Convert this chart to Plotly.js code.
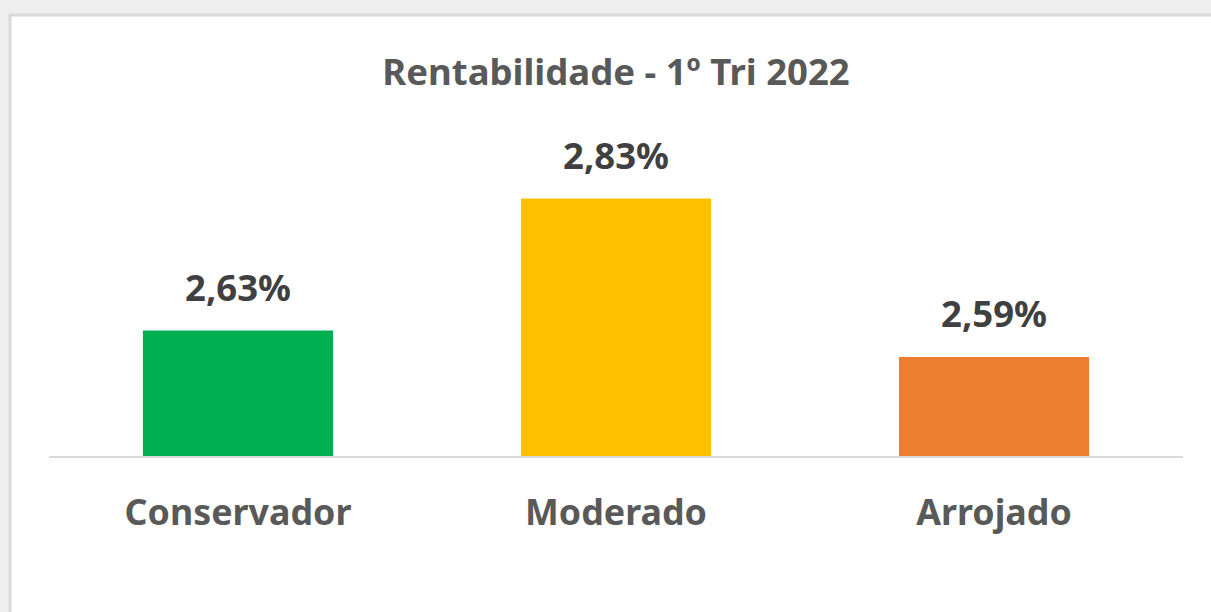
<!DOCTYPE html>
<html>
<head>
<meta charset="utf-8">
<script src="https://cdn.plot.ly/plotly-3.0.1.min.js"></script>
<style>
html,body{margin:0;padding:0;background:#efefef;}
#chart{width:1211px;height:612px;}
</style>
</head>
<body>
<div id="chart"></div>
<script>
const categories = ["Conservador", "Moderado", "Arrojado"];
const values = [2.63, 2.83, 2.59];
const labels = ["2,63%", "2,83%", "2,59%"];
const colors = ["#00B050", "#FFC000", "#ED7D31"];
const titleText = "Rentabilidade - 1º Tri 2022";

const FONT = "Noto Sans, Open Sans, sans-serif";

const trace = {
  type: "bar",
  x: categories,
  y: values,
  width: 0.503,
  marker: {color: colors, line: {width: 0}},
  hoverinfo: "skip"
};

const annotations = categories.map((c, i) => ({
  x: c, y: values[i], xref: "x", yref: "y",
  text: "<b>" + labels[i] + "</b>",
  showarrow: false, yanchor: "bottom", yshift: 17,
  font: {family: FONT, size: 36.5, color: "#404040"}
}));

const pl = 49, pw = 1134, pt = 100, ph = 356;
const shapes = [{
  type: "rect", xref: "paper", yref: "paper", layer: "below",
  x0: (10 - pl) / pw, x1: (1230 - pl) / pw,
  y0: 1 - (640 - pt) / ph, y1: 1 - (15 - pt) / ph,
  fillcolor: "#ffffff", line: {color: "#d9d9d9", width: 3}
}];

const layout = {
  width: 1211, height: 612,
  margin: {l: pl, r: 1211 - pl - pw, t: pt, b: 612 - pt - ph},
  paper_bgcolor: "#efefef",
  plot_bgcolor: "rgba(0,0,0,0)",
  title: {
    text: "<b>" + titleText + "</b>",
    x: 0.5, xref: "paper", y: 1 - 72 / 612, yanchor: "middle",
    font: {family: FONT, size: 36.5, color: "#595959"}
  },
  xaxis: {
    type: "category", range: [-0.5, 2.5], fixedrange: true,
    showline: true, linecolor: "#d9d9d9", linewidth: 2,
    ticks: "", showgrid: false, zeroline: false,
    tickfont: {family: FONT, size: 35.8, color: "#595959", weight: "bold"},
    ticklabelstandoff: 24
  },
  yaxis: {
    range: [2.44, 2.44 + 356 / 660], visible: false, showgrid: false, zeroline: false, fixedrange: true
  },
  shapes: shapes,
  annotations: annotations,
  showlegend: false
};

Plotly.newPlot("chart", [trace], layout, {displayModeBar: false, staticPlot: true});
</script>
</body>
</html>
